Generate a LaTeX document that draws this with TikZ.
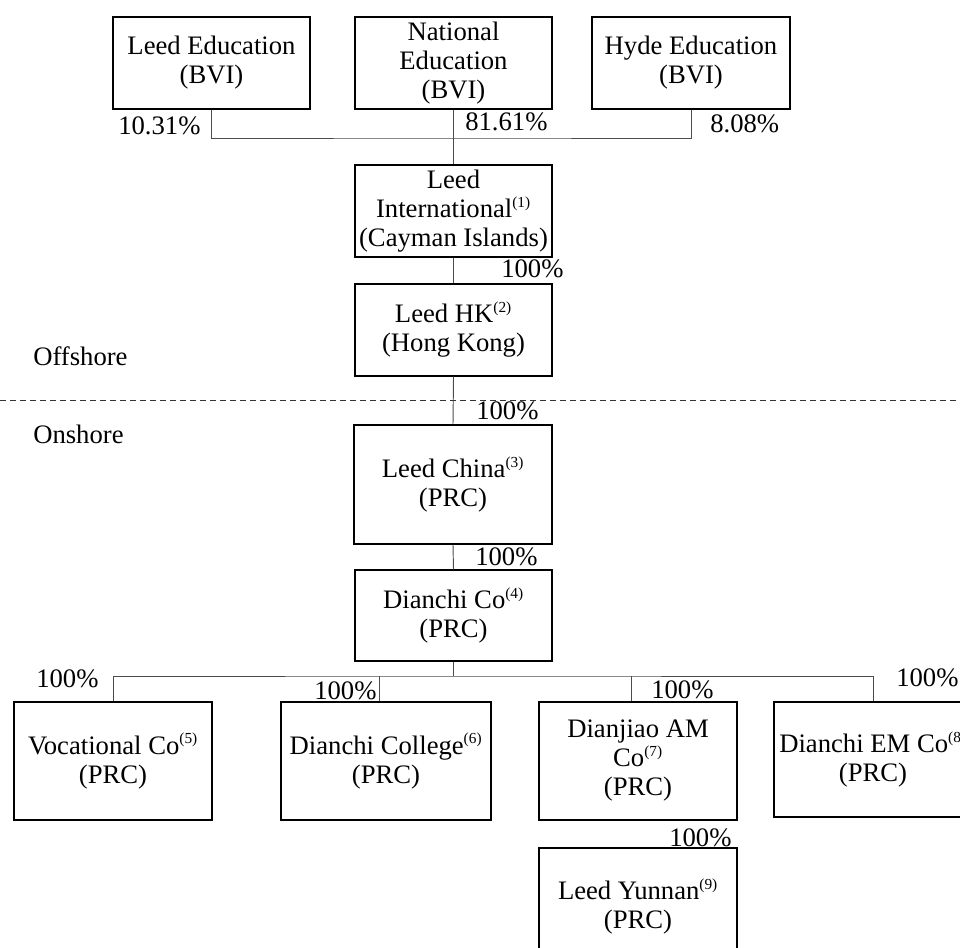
\documentclass[tikz,border=0pt]{standalone}
\usepackage{fontspec}
\setmainfont{Liberation Serif}
\newcommand\refmark[1]{\textsuperscript{\fontsize{11.5}{11.5}\selectfont #1}}
\begin{document}
\begin{tikzpicture}[x=0.75pt,y=-0.75pt,
  every node/.style={font=\fontsize{20}{21.75}\selectfont},
  entity/.style={draw=black, line width=0.9pt, align=center, inner sep=0pt,
    minimum width=#1*0.75pt},
  entity/.default=197,
  pct/.style={anchor=base west, inner sep=0pt},
  conn/.style={draw=black!70, line width=0.7pt},
  zone/.style={anchor=base west, inner sep=0pt}]
\clip (0,0) rectangle (960,948);
\useasboundingbox (0,0) rectangle (960,948);
% top shareholders
\node[entity, minimum height=69pt] (le) at (211.5,63) {Leed Education\\(BVI)};
\node[entity, minimum height=69pt] (ne) at (453.5,63) {National\\Education\\(BVI)};
\node[entity=198, minimum height=69pt] (he) at (691,63) {Hyde Education\\(BVI)};
% chain
\node[entity, minimum height=69pt] (li) at (453.5,211) {Leed\\International\refmark{(1)}\\(Cayman Islands)};
\node[entity, minimum height=69pt] (hk) at (453.5,330) {Leed HK\refmark{(2)}\\(Hong Kong)};
\node[entity=198, minimum height=89.25pt] (lc) at (453,484.5) {Leed China\refmark{(3)}\\(PRC)};
\node[entity, minimum height=68.25pt] (dc) at (453.5,615.5) {Dianchi Co\refmark{(4)}\\(PRC)};
% subsidiaries
\node[entity=198, minimum height=88.5pt] (vc) at (113,761) {Vocational Co\refmark{(5)}\\(PRC)};
\node[entity=210, minimum height=88.5pt] (col) at (386,761) {Dianchi College\refmark{(6)}\\(PRC)};
\node[entity=198, minimum height=88.5pt] (dj) at (638,761) {Dianjiao AM\\Co\refmark{(7)}\\(PRC)};
\node[entity=198, minimum height=86.25pt] (em) at (873,759.5) {Dianchi EM Co\refmark{(8)}\\(PRC)};
\node[entity=198, minimum height=87.75pt] (ly) at (638,906.5) {Leed Yunnan\refmark{(9)}\\(PRC)};
% connectors
\coordinate (topbus) at (453.5,138);
\draw[conn] (le.south) |- (topbus) -| (he.south);
\draw[conn] (ne.south) -- (li.north);
\draw[conn] (li.south) -- (hk.north);
\draw[conn] (hk.south) -- (lc.north);
\draw[conn] (lc.south) -- (dc.north);
\coordinate (bus) at (453.5,676);
\coordinate (colx) at (379,676);
\coordinate (djx) at (631,676);
\draw[conn] (dc.south) -- (bus);
\draw[conn] (vc.north) |- (bus) -| (em.north);
\draw[conn] (colx) -- (colx |- col.north);
\draw[conn] (djx) -- (djx |- dj.north);
% offshore / onshore divider
\coordinate (divl) at (0,400);
\coordinate (divr) at (960,400);
\draw[black!80, line width=0.6pt, dash pattern=on 4.5pt off 3pt] (divl) -- (divr);
\node[zone] (off) at (33,366) {Offshore};
\node[zone] (on) at (33,443) {Onshore};
% percentages
\node[pct] (p1) at (118,135) {10.31\%};
\node[pct] (p2) at (465,131) {81.61\%};
\node[pct] (p3) at (710,133) {8.08\%};
\node[pct] (p4) at (501,278) {100\%};
\node[pct] (p5) at (476,420) {100\%};
\node[pct] (p6) at (475,565) {100\%};
\node[pct] (p7) at (36,687) {100\%};
\node[pct] (p8) at (314,699) {100\%};
\node[pct] (p9) at (651,698) {100\%};
\node[pct] (p10) at (896,686) {100\%};
\node[pct] (p11) at (669,846) {100\%};
\end{tikzpicture}
\end{document}
